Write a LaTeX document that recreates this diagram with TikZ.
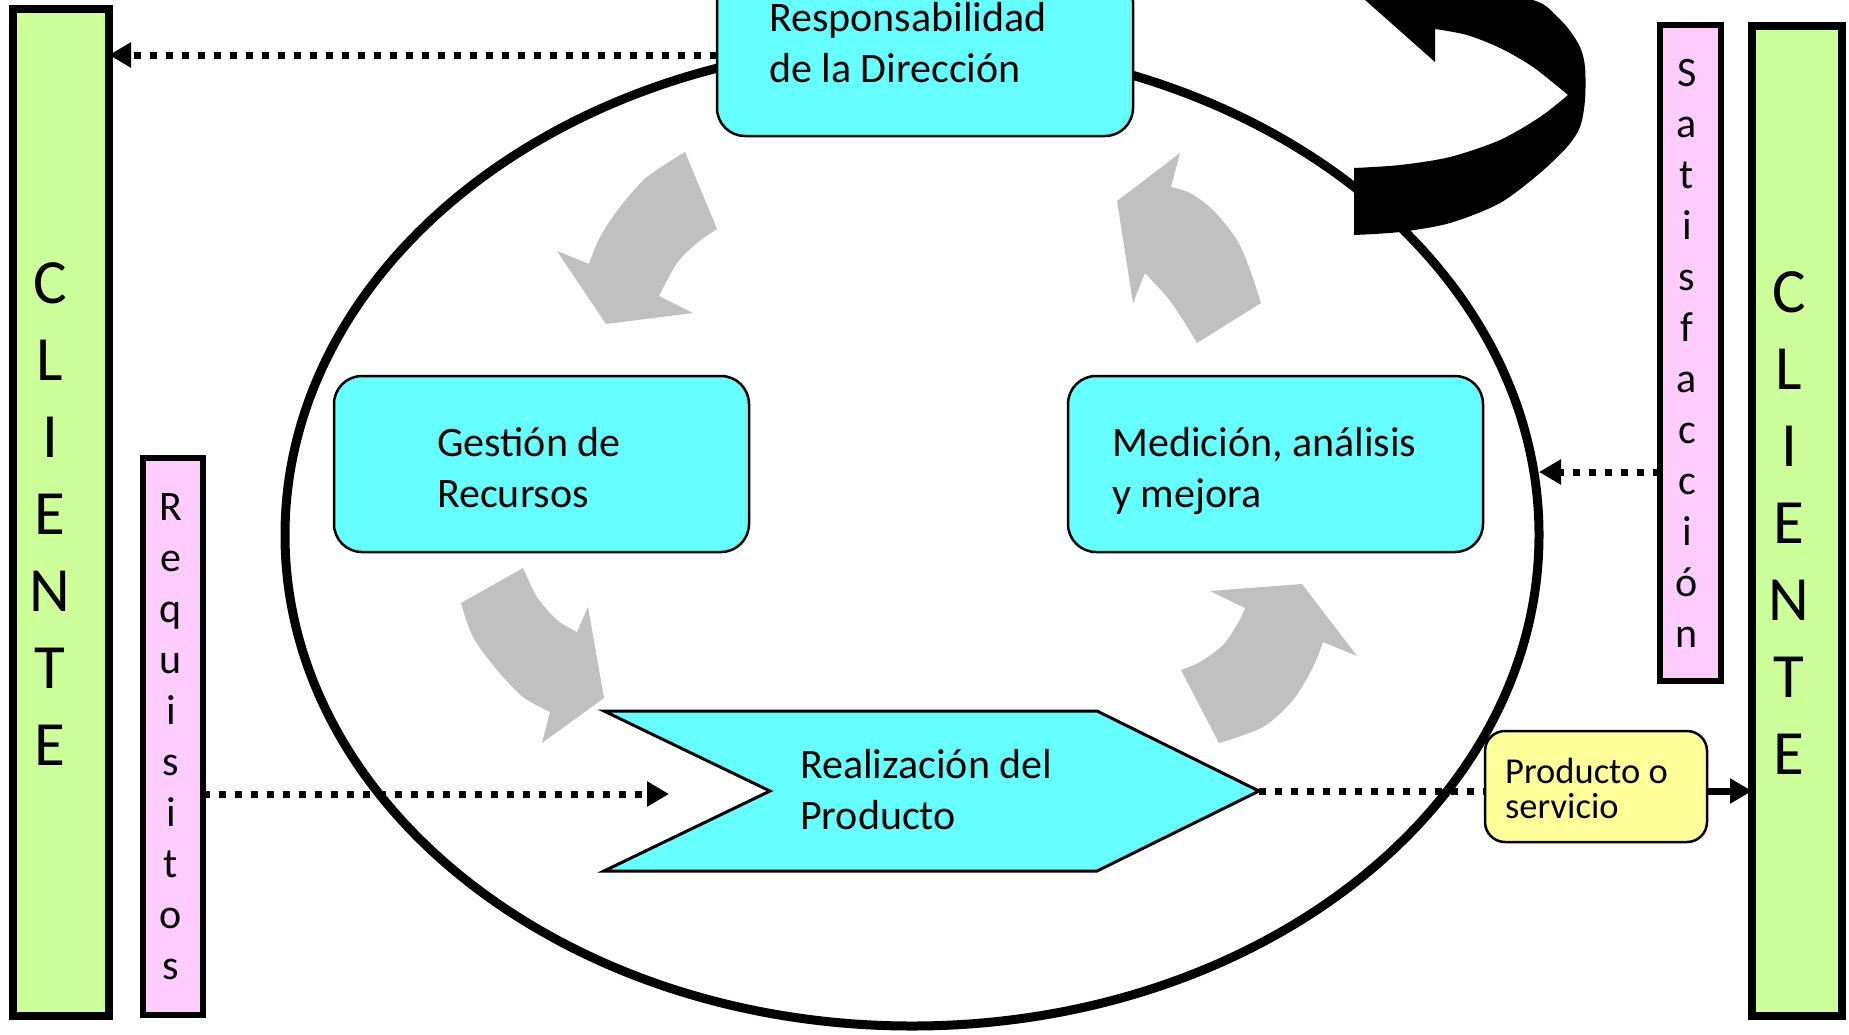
\documentclass[tikz,border=0pt]{standalone}
\usepackage{fontspec}
\setmainfont{Carlito}
\usetikzlibrary{arrows.meta,shapes.geometric}
\definecolor{boxcyan}{HTML}{66FFFF}
\definecolor{clientgreen}{HTML}{CCFF99}
\definecolor{pinkbox}{HTML}{FFCCFF}
\definecolor{yellowbox}{HTML}{FFFF99}
\definecolor{arrowgray}{HTML}{C0C0C0}
\begin{document}
\begin{tikzpicture}[x=1pt,y=-1pt,
  clientbox/.style={draw=black, line width=8pt, fill=clientgreen, inner sep=0pt, outer sep=0pt},
  sidebox/.style={draw=black, line width=6pt, fill=pinkbox, inner sep=0pt, outer sep=0pt},
  procbox/.style={draw=black, line width=2.5pt, fill=boxcyan, rounded corners=28pt, inner sep=0pt, outer sep=0pt},
  prodbox/.style={draw=black, line width=2.5pt, fill=yellowbox, rounded corners=20pt, inner sep=0pt, outer sep=0pt},
  boxtext/.style={font=\fontsize{42}{51}\selectfont, align=left, anchor=base west, inner sep=0pt},
  prodtext/.style={font=\fontsize{36.5}{35}\selectfont, align=left, anchor=base west, inner sep=0pt},
  bigletter/.style={font=\fontsize{63}{77}\selectfont, anchor=base, inner sep=0pt},
  smallletter/.style={font=\fontsize{42}{51}\selectfont, anchor=base, inner sep=0pt},
  dotline/.style={line width=7pt, dash pattern=on 7pt off 9pt},
  dotarrow/.style={dotline, -{Triangle[length=22pt,width=24pt]}},
  solidarrow/.style={line width=7pt, -{Triangle[length=22pt,width=24pt]}},
  grayarrow/.style={fill=arrowgray},
]
\useasboundingbox (0,0) rectangle (1849,1034);
\begin{scope}
\clip (0,0) rectangle (1849,1034);
\fill[white] (0,0) rectangle (1849,1034);

% grey curved arrows
\fill[grayarrow] (685,152) -- (717,229)
  -- plot[smooth] coordinates {(717,229) (697,243) (677,263) (659,296)}
  -- (693,313) -- (606,324) -- (557,251) -- (589,264)
  -- plot[smooth] coordinates {(589,264) (600,237) (620,207) (647,177) (685,152)} -- cycle;
\fill[grayarrow] (1180,153) -- (1117,201) -- (1133,303) -- (1145,273)
  -- plot[smooth] coordinates {(1145,273) (1167,297) (1183,320) (1197,343)}
  -- (1261,303)
  -- plot[smooth] coordinates {(1261,303) (1250,270) (1237,240) (1213,210) (1190,193) (1171,187)} -- cycle;
\fill[grayarrow] (461,603) -- (523,568)
  -- plot[smooth] coordinates {(523,568) (537,597) (557,620) (577,632)}
  -- (588,607) -- (604,698) -- (542,743) -- (550,712)
  -- plot[smooth] coordinates {(550,712) (523,697) (497,670) (473,637) (461,603)} -- cycle;
\fill[grayarrow] (1219,743) -- (1181,670)
  -- plot[smooth] coordinates {(1181,670) (1200,662) (1223,645) (1238,623) (1245,608)}
  -- (1210,591) -- (1302,584) -- (1357,656) -- (1323,642)
  -- plot[smooth] coordinates {(1323,642) (1313,667) (1293,700) (1263,727) (1219,743)} -- cycle;

% big ellipse
\node[draw=black, ellipse, line width=9pt, minimum width=1254pt, minimum height=982pt, inner sep=0pt, outer sep=0pt] (ell) at (912,535) {};

% black curved arrow
\fill[black] (1354,168) -- (1354,235)
  -- plot[smooth] coordinates {(1354,235) (1400,232) (1450,223) (1500,203) (1540,173) (1567,147) (1580,127) (1585,100) (1585,67) (1580,47) (1567,27) (1547,7) (1533,0) (1490,-14)}
  -- (1435,-18) -- (1435,-80) -- (1320,-40) -- (1435,62) -- (1435,29)
  -- plot[smooth] coordinates {(1435,29) (1467,35) (1500,48) (1533,67) (1568,95)}
  -- plot[smooth] coordinates {(1568,95) (1540,117) (1500,140) (1450,157) (1400,165) (1354,168)}
  -- cycle;

% process boxes
\node[procbox, minimum width=416pt, minimum height=162pt] (resp) at (925,55) {};
\node[procbox, minimum width=415pt, minimum height=176pt] (gest) at (541.5,464) {};
\node[procbox, minimum width=415pt, minimum height=176pt] (med) at (1275.5,464) {};
\node[prodbox, minimum width=222pt, minimum height=111pt] (prod) at (1596,786.5) {};

% realization chevron
\coordinate (realtip) at (1259,791);
\draw[black, line width=3pt, fill=boxcyan, line join=miter]
  (604,711) -- (1097,711) -- (realtip) -- (1097,871) -- (604,871) -- (770,791) -- cycle;

% side boxes
\node[clientbox, minimum width=96pt, minimum height=1007pt] (cl) at (61,512.5) {};
\node[sidebox, minimum width=60pt, minimum height=557pt] (req) at (173,736.5) {};
\node[sidebox, minimum width=61pt, minimum height=656pt] (sat) at (1690.5,353) {};
\node[clientbox, minimum width=90pt, minimum height=990pt] (cr) at (1797,521) {};

% connectors
\coordinate (reqend) at (669,794);
\coordinate (satlevel) at (0,472);
\draw[dotarrow] (resp.west) -- (cl.east |- resp.west);
\draw[dotarrow] (req.east |- reqend) -- (reqend);
\draw[dotline] (realtip) -- (prod.west |- realtip);
\draw[solidarrow] (prod.east |- realtip) -- (cr.west |- realtip);
\draw[dotarrow] (sat.west |- satlevel) -- (ell.east |- satlevel);

% texts (base anchor = last line)
\node[boxtext] (resptext) at (769,82) {Responsabilidad\\de la Dirección};
\node[boxtext] (gesttext) at (437,507) {Gestión de\\Recursos};
\node[boxtext] (medtext) at (1112,507) {Medición, análisis\\y mejora};
\node[boxtext] (realtext) at (800,829) {Realización del\\Producto};
\node[prodtext] (prodtxt) at (1505,818) {Producto o\\servicio};

\foreach \ch [count=\i from 0] in {C,L,I,E,N,T,E} {
  \node[bigletter] (cla\i) at (50,{303+77*\i}) {\ch};
  \node[bigletter] (clb\i) at (1789,{312+77*\i}) {\ch};
}
\foreach \ch [count=\i from 0] in {S,a,t,i,s,f,a,c,c,i,ó,n} {
  \node[smallletter] (sat\i) at (1687,{86+51*\i}) {\ch};
}
\foreach \ch [count=\i from 0] in {R,e,q,u,i,s,i,t,o,s} {
  \node[smallletter] (req\i) at (171,{520+51*\i}) {\ch};
}
\end{scope}
\end{tikzpicture}
\end{document}
